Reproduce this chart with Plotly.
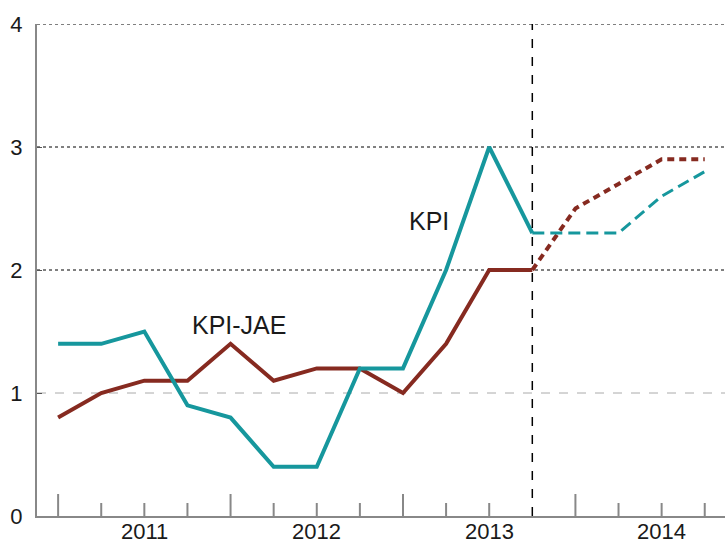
import plotly.graph_objects as go

quarters = list(range(16))
kpi = [1.4, 1.4, 1.5, 0.9, 0.8, 0.4, 0.4, 1.2, 1.2, 2.0, 3.0, 2.3]
kpi_fc = [2.3, 2.3, 2.3, 2.6, 2.8]
jae = [0.8, 1.0, 1.1, 1.1, 1.4, 1.1, 1.2, 1.2, 1.0, 1.4, 2.0, 2.0]
jae_fc = [2.0, 2.5, 2.7, 2.9, 2.9]
year_pos = [2, 6, 10, 14]
year_labels = ["2011", "2012", "2013", "2014"]
long_ticks = [0, 4, 8, 12]
forecast_start = 11
y_ticks = [0, 1, 2, 3, 4]

TEAL = "#16979d"
RED = "#862a20"

fig = go.Figure()
hist_x = quarters[:len(kpi)]
fc_x = quarters[forecast_start:forecast_start + len(kpi_fc)]
fig.add_trace(go.Scatter(x=hist_x, y=jae, mode="lines", line=dict(color=RED, width=4), showlegend=False))
fig.add_trace(go.Scatter(x=hist_x, y=kpi, mode="lines", line=dict(color=TEAL, width=4), showlegend=False))
fig.add_trace(go.Scatter(x=fc_x, y=jae_fc, mode="lines", line=dict(color=RED, width=4, dash="7px,5px"), showlegend=False))
fig.add_trace(go.Scatter(x=fc_x, y=kpi_fc, mode="lines", line=dict(color=TEAL, width=3, dash="12px,6px"), showlegend=False))

shapes = []
for yv in y_ticks[1:]:
    if yv == 1:
        shapes.append(dict(type="line", xref="paper", yref="y", x0=0, x1=1, y0=yv, y1=yv,
                           line=dict(color="#aaaaaa", width=1, dash="dash"), layer="below"))
    else:
        shapes.append(dict(type="line", xref="paper", yref="y", x0=0, x1=1, y0=yv, y1=yv,
                           line=dict(color="black", width=1, dash="dot"), layer="below"))
for q in quarters:
    if q == forecast_start:
        continue
    h = 22 if q in long_ticks else 13
    shapes.append(dict(type="line", xref="x", yref="y", ysizemode="pixel", yanchor=0,
                       x0=q, x1=q, y0=0, y1=h, line=dict(color="#888888", width=2)))
shapes.append(dict(type="line", xref="x", yref="paper", x0=forecast_start, x1=forecast_start, y0=0, y1=1,
                   line=dict(color="black", width=1.5, dash="dash")))

annotations = [
    dict(x=8.6, y=2.4, xref="x", yref="y", text="KPI", showarrow=False, font=dict(size=25)),
    dict(x=4.2, y=1.55, xref="x", yref="y", text="KPI-JAE", showarrow=False, font=dict(size=25)),
]
for xp, lab in zip(year_pos, year_labels):
    annotations.append(dict(x=xp, y=0, xref="x", yref="paper", yanchor="middle", yshift=-15,
                            text=lab, showarrow=False, font=dict(size=22)))

fig.update_layout(
    width=725, height=544,
    margin=dict(l=37, r=0, t=24, b=28),
    plot_bgcolor="white", paper_bgcolor="white",
    font=dict(family="Liberation Sans, Arial, sans-serif", size=22, color="#1a1a1a"),
    shapes=shapes,
    xaxis=dict(range=[-0.49, 15.47], showticklabels=False, ticks="",
               showgrid=False, zeroline=False, showline=True, linecolor="#888888", linewidth=2,
               automargin=False),
    yaxis=dict(range=[0, 4], tickvals=y_ticks, showgrid=False, zeroline=False, showline=True,
               linecolor="#888888", linewidth=2, ticks="inside", ticklen=5, tickcolor="#555555",
               ticklabelstandoff=8, tickfont=dict(size=22), automargin=False),
    annotations=annotations,
)

fig.write_html("out.html", config={"displayModeBar": False},
               post_script="document.body.style.margin='0';document.body.style.overflow='hidden';")
